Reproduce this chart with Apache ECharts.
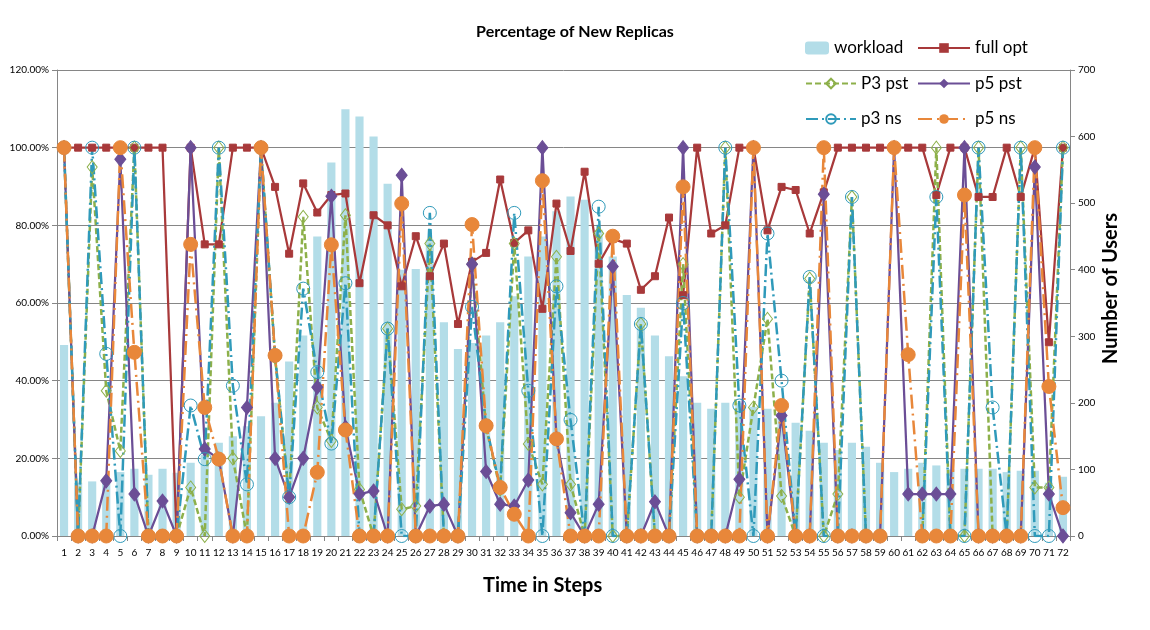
<!DOCTYPE html>
<html>
<head>
<meta charset="utf-8">
<title>Percentage of New Replicas</title>
<script src="https://cdn.jsdelivr.net/npm/echarts@6/dist/echarts.min.js"></script>
<style>
  html, body { margin: 0; padding: 0; background: #ffffff; }
  #chart { width: 1150px; height: 630px; }
</style>
</head>
<body>
<div id="chart"></div>
<script>
// Time steps 1..72
const steps = Array.from({ length: 72 }, (_, i) => String(i + 1));

// Number of users per step (right axis)
const workload = [
  287, 80, 82, 85, 96, 101, 92, 101, 95, 110,
  122, 140, 150, 165, 180, 200, 262, 301, 450, 561,
  641, 630, 600, 529, 400, 401, 445, 321, 281, 290,
  301, 321, 360, 420, 450, 488, 510, 505, 460, 420,
  362, 343, 301, 270, 240, 200, 191, 200, 200, 194,
  191, 180, 170, 158, 140, 129, 140, 134, 110, 96,
  101, 110, 106, 100, 101, 101, 101, 96, 98, 98,
  80, 89
];

// Percentage of new replicas per strategy (left axis, in %); null = no value
const fullOpt = [
  100, 100, 100, 100, 100, 100, 100, 100, 0, 100,
  75.1, 75.1, 100, 100, 100, 89.9, 72.7, 90.8, 83.3, 87.8,
  88.2, 65.1, 82.6, 80, 64.3, 77.2, 66.9, 75.3, 54.6, 70.6,
  72.9, 91.8, 75.5, 78.7, 58.5, 85.6, 73.4, 93.8, 70.1, 76.5,
  75.3, 63.4, 66.9, 82, 62, 100, 77.9, 80, 100, 100,
  78.7, 89.9, 89.1, 77.9, 88.5, 100, 100, 100, 100, 100,
  100, 100, 87.8, 100, 100, 87.3, 87.3, 100, 87.3, 100,
  49.9, 100
];

const p3Pst = [
  100, 0, 95, 37.4, 21.9, 100, 0, 0, 0, 12.5,
  0, 100, 20, 0, 100, 46, 10, 82.2, 33.1, 24.5,
  82.6, 12, 0, 53.4, 6.9, 7.7, 75.3, 0, 0, 70.1,
  28, 12, 75.3, 23.7, 13.3, 71.9, 13.3, 0, 77.9, 0,
  0, 54.6, 0, 0, 70, 0, 0, 100, 10, 33.1,
  55.9, 10.3, 0, 66.3, 0, 10.8, 87.3, 0, 0, null,
  null, 0, 100, 0, 0, 100, 0, 0, 100, 12.5,
  12.5, 100
];

const p5Pst = [
  100, 0, 0, 14.2, 97, 10.8, 0, 9, 0, 100,
  22.4, 19.8, 0, 33.1, 100, 20, 10, 20, 38.3, 87.5,
  28, 10.8, 11.6, 0, 92.9, 0, 7.7, 8.2, 0, 70,
  16.6, 8.2, 7.7, 14.4, 100, 25, 6, 0, 8.2, 69.4,
  0, 0, 8.8, 0, 100, 0, 0, 0, 14.6, 100,
  0, 31, 0, 0, 88, 0, 0, 0, 0, 100,
  10.8, 10.8, 10.8, 10.8, 100, 0, 0, 0, 0, 95,
  10.8, 0
];

const p3Ns = [
  100, 0, 100, 46.9, 0, 100, 0, 0, 0, 33.6,
  19.8, 100, 38.7, 13.3, 100, 46.5, 10, 63.7, 42.2, 23.8,
  65.1, 0, 0, 53.4, 0, 0, 83.2, 0, 0, 59,
  28.4, 12.5, 83.2, 37.4, 0, 64.3, 29.9, 0, 84.8, 0,
  0, 54.6, 0, 0, 60, 0, 0, 100, 33.6, 0,
  77.9, 40, 0, 66.7, 0, 0, 87.3, 0, 0, null,
  null, 0, 87.3, 0, 0, 100, 33.1, 0, 100, 0,
  0, 100
];

const p5Ns = [
  100, 0, 0, 0, 100, 47.3, 0, 0, 0, 75.1,
  33.1, 19.8, 0, 0, 100, 46.5, 0, 0, 16.4, 75,
  27.3, 0, 0, 0, 85.6, 0, 0, 0, 0, 80.2,
  28.4, 12.5, 5.6, 0, 91.5, 25, 0, 0, 0, 77.2,
  0, 0, 0, 0, 89.9, 0, 0, 0, 0, 100,
  0, 33.6, 0, 0, 100, 0, 0, 0, 0, 100,
  46.7, 0, 0, 0, 87.8, 0, 0, 0, 0, 100,
  38.5, 7.3
];

const FONT = 'Lato, "Open Sans", sans-serif';
const AXIS_GRAY = '#868686';
const HOLLOW = 'rgba(255,255,255,0)';

const chart = echarts.init(document.getElementById('chart'), null, { renderer: 'canvas' });

function lineSeries(name, data, color, opts) {
  return Object.assign({
    name: name,
    type: 'line',
    yAxisIndex: 0,
    data: data,
    color: color,
    lineStyle: { color: color, width: 2.25 },
    itemStyle: { color: color, borderColor: color },
    animation: false,
    z: 3
  }, opts);
}

const legendText = { fontFamily: FONT, fontSize: 17, color: '#000000', lineHeight: 22 };

const option = {
  backgroundColor: '#ffffff',
  animation: false,
  title: {
    text: 'Percentage of New Replicas',
    left: 'center',
    top: 19,
    textStyle: { fontFamily: FONT, fontSize: 16, fontWeight: 'bold', color: '#000000' }
  },
  legend: [
    {
      data: ['workload'],
      left: 800,
      top: 32,
      padding: 5,
      itemWidth: 24,
      itemHeight: 13,
      textStyle: legendText
    },
    {
      data: ['P3 pst', 'p3 ns'],
      orient: 'vertical',
      left: 800,
      top: 67.5,
      padding: 5,
      itemWidth: 50,
      itemHeight: 12,
      itemGap: 13.5,
      textStyle: legendText
    },
    {
      data: ['full opt', 'p5 pst', 'p5 ns'],
      orient: 'vertical',
      left: 912,
      top: 32,
      padding: 5,
      itemWidth: 52,
      itemHeight: 12,
      itemGap: 13.5,
      textStyle: legendText
    }
  ],
  grid: { left: 57, right: 80, top: 70, bottom: 94, containLabel: false },
  xAxis: {
    type: 'category',
    data: steps,
    boundaryGap: true,
    axisLine: { lineStyle: { color: AXIS_GRAY } },
    axisTick: { show: true, length: 5, lineStyle: { color: AXIS_GRAY }, interval: 0 },
    axisLabel: { interval: 0, fontFamily: FONT, fontSize: 10, color: '#000000', margin: 12 }
  },
  yAxis: [
    {
      type: 'value',
      min: 0,
      max: 120,
      interval: 20,
      axisLine: { show: true, lineStyle: { color: AXIS_GRAY } },
      axisTick: { show: true, length: 5, lineStyle: { color: AXIS_GRAY } },
      axisLabel: {
        fontFamily: FONT, fontSize: 10, color: '#000000', margin: 8,
        formatter: v => v.toFixed(2) + '%'
      },
      splitLine: { show: true, lineStyle: { color: AXIS_GRAY, width: 1 } }
    },
    {
      type: 'value',
      position: 'right',
      min: 0,
      max: 700,
      interval: 100,
      axisLine: { show: true, lineStyle: { color: AXIS_GRAY } },
      axisTick: { show: true, length: 5, lineStyle: { color: AXIS_GRAY } },
      axisLabel: { fontFamily: FONT, fontSize: 10, color: '#000000', margin: 8 },
      splitLine: { show: false }
    }
  ],
  graphic: [
    {
      type: 'text',
      left: 1101,
      top: 213,
      rotation: Math.PI / 2,
      style: {
        text: 'Number of Users',
        fontFamily: FONT, fontSize: 20, fontWeight: 'bold', fill: '#000000'
      }
    },
    {
      type: 'text',
      left: 483,
      top: 576,
      style: {
        text: 'Time in Steps',
        fontFamily: FONT, fontSize: 20, fontWeight: 'bold', fill: '#000000'
      }
    }
  ],
  series: [
    {
      name: 'workload',
      type: 'bar',
      yAxisIndex: 1,
      data: workload,
      barWidth: '58%',
      itemStyle: { color: '#B3DDE8' },
      z: 1
    },
    lineSeries('full opt', fullOpt, '#A8393A', {
      symbol: 'rect', symbolSize: 7
    }),
    lineSeries('P3 pst', p3Pst, '#8DB04A', {
      symbol: 'diamond', symbolSize: [10, 13],
      lineStyle: { color: '#8DB04A', width: 2.5, type: [6, 3] },
      itemStyle: { color: HOLLOW, borderColor: '#8DB04A', borderWidth: 1 }
    }),
    lineSeries('p5 pst', p5Pst, '#6B4E96', {
      symbol: 'diamond', symbolSize: [11, 14]
    }),
    lineSeries('p3 ns', p3Ns, '#2F9ABA', {
      symbol: 'circle', symbolSize: 13,
      lineStyle: { color: '#2F9ABA', width: 2.5, type: [12, 4, 2, 4] },
      itemStyle: { color: HOLLOW, borderColor: '#2F9ABA', borderWidth: 1 }
    }),
    lineSeries('p5 ns', p5Ns, '#E8873A', {
      symbol: 'circle', symbolSize: 14,
      lineStyle: { color: '#E8873A', width: 2.5, type: [14, 5, 2, 5] }
    })
  ]
};

chart.setOption(option);
</script>
</body>
</html>
